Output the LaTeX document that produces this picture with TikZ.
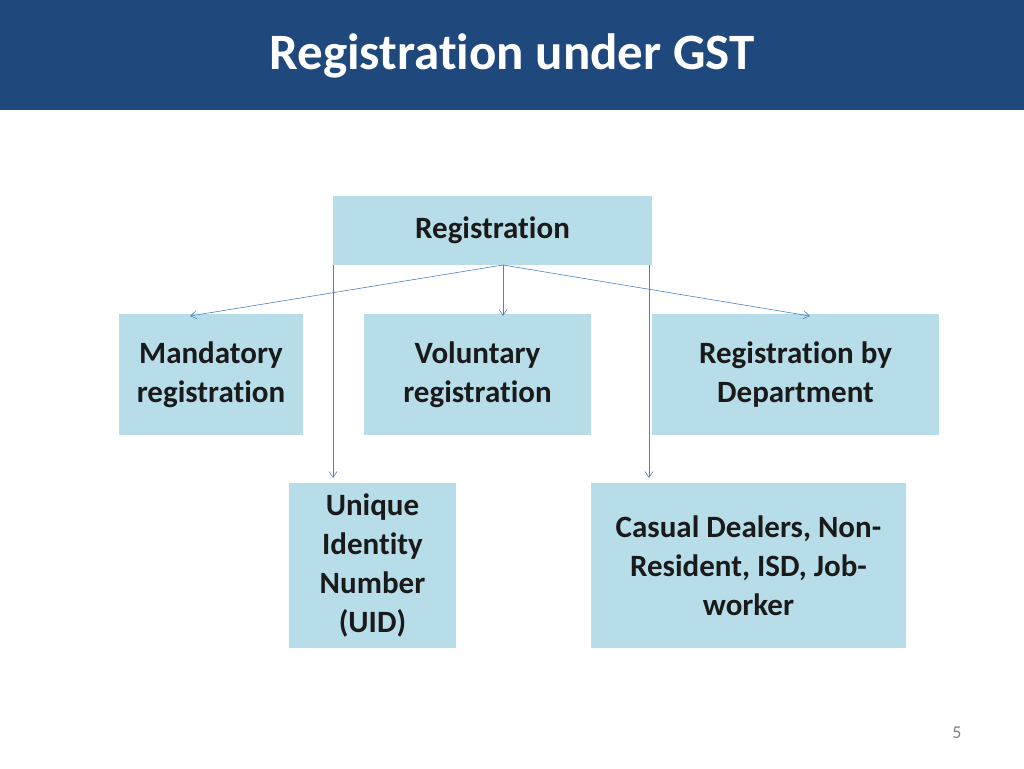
\documentclass[tikz,border=0pt]{standalone}
\usepackage{fontspec}
\setmainfont{Carlito}[Ligatures=NoCommon]
\usetikzlibrary{arrows.meta}
\definecolor{hdr}{HTML}{1F497D}
\definecolor{boxc}{HTML}{B7DEE8}
\definecolor{ln}{HTML}{4F81BD}
\definecolor{txt}{HTML}{1A1A1A}
\begin{document}
\begin{tikzpicture}[x=1pt,y=-1pt,
  bx/.style={fill=boxc,draw=none,inner sep=0pt,align=center,text=txt,font=\bfseries\fontsize{31}{39}\selectfont},
  conn/.style={draw=ln,line width=0.6pt,-{Straight Barb[length=6pt,width=8pt]}}]
\useasboundingbox (0,0) rectangle (1024,768);
\fill[hdr] (0,0) rectangle (1024,110);
\node[text=white,font=\bfseries\fontsize{51}{60}\selectfont] (title) at (512,56) {Registration under GST};
\node[bx,minimum width=319pt,minimum height=69pt] (reg) at (492.5,230.5) {Registration};
\node[bx,minimum width=184pt,minimum height=121pt] (man) at (211,374.5) {Mandatory\\registration};
\node[bx,minimum width=227pt,minimum height=121pt] (vol) at (477.5,374.5) {Voluntary\\registration};
\node[bx,minimum width=287pt,minimum height=121pt] (dep) at (795.5,374.5) {Registration by\\Department};
\node[bx,minimum width=167pt,minimum height=165pt] (uid) at (372.5,565.5) {Unique\\Identity\\Number\\(UID)};
\node[bx,minimum width=315pt,minimum height=165pt] (cas) at (748.5,565.5) {Casual Dealers, Non-\\Resident, ISD, Job-\\worker};
\coordinate (top) at (503,265);
\coordinate (l) at (333,265);
\coordinate (r) at (649,265);
\draw[conn] (top) -- (190,316);
\draw[conn] (top) -- (503,316);
\draw[conn] (top) -- (810,316);
\draw[conn] (l) -- (333,478);
\draw[conn] (r) -- (649,478);
\node[text=gray,font=\fontsize{18}{20}\selectfont] (pg) at (957,733) {5};
\end{tikzpicture}
\end{document}
